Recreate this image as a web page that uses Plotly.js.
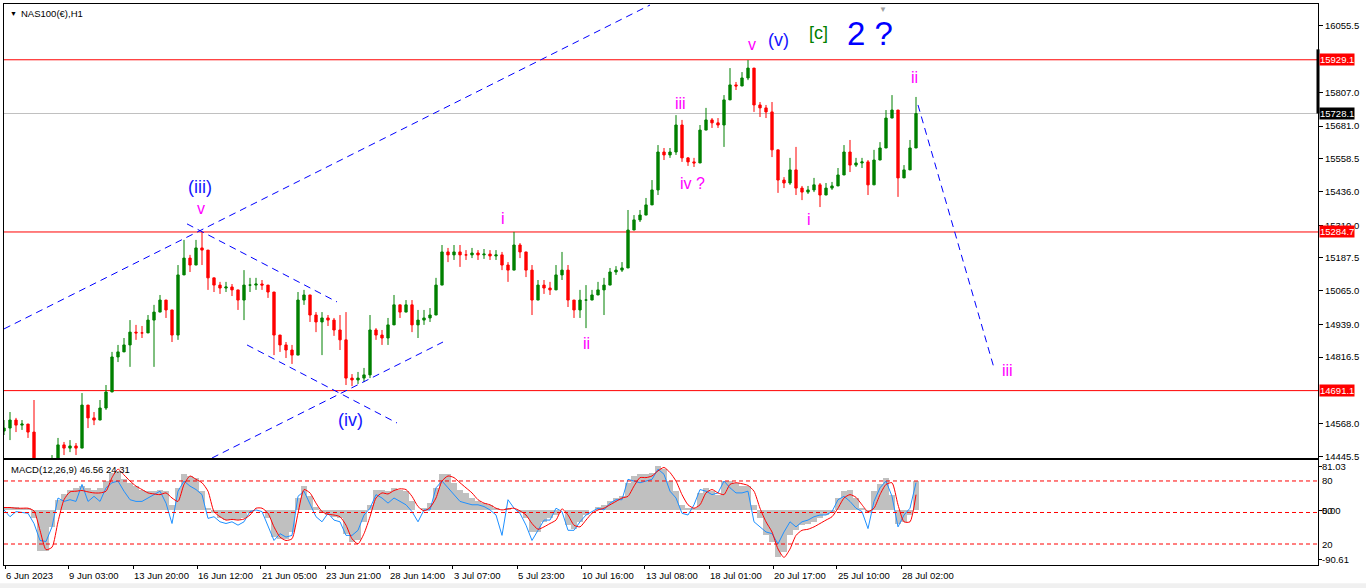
<!DOCTYPE html>
<html><head><meta charset="utf-8">
<script src="https://cdn.plot.ly/plotly-3.0.1.min.js"></script>
<style>html,body{margin:0;padding:0;background:#fff;}#chart{width:1366px;height:588px;}</style>
</head><body><div id="chart"></div>
<script>
// ---------- price data (H1 candles, sampled) ----------
const firstOpen = 14540;
const closes = [14551,14581,14562,14566,14536,14413,14394,14402,14424,14488,
14476,14484,14476,14637,14589,14581,14626,14686,14817,14836,
14862,14910,14907,14907,14955,14985,15030,14993,14899,15124,
15187,15161,15225,15217,15113,15086,15075,15079,15068,15030,
15086,15086,15090,15086,15060,14899,14862,14843,14824,15030,
15049,14974,14948,14963,14955,14918,14881,14738,14731,14738,
14750,14918,14899,14888,14937,15012,14985,15012,14937,14955,
14963,14974,15086,15210,15199,15210,15199,15199,15206,15199,
15202,15195,15199,15161,15142,15236,15210,15142,15030,15086,
15075,15068,15124,15142,15030,14993,15030,15030,15049,15068,
15086,15135,15142,15150,15292,15330,15348,15386,15442,15584,
15573,15584,15685,15562,15547,15543,15666,15704,15693,15685,
15779,15835,15831,15861,15898,15760,15749,15734,15592,15479,
15468,15517,15449,15434,15442,15461,15423,15449,15457,15498,
15584,15535,15543,15547,15461,15554,15599,15711,15741,15487,
15517,15599,15728];
const highs = [14581,14611,14589,14581,14562,14656,14424,14424,14450,14514,
14499,14506,14495,14682,14637,14611,14656,14712,14836,14862,
14888,14955,14937,14933,14974,15012,15049,15030,14974,15161,
15255,15199,15255,15285,15199,15113,15098,15098,15090,15068,
15142,15113,15113,15105,15086,15049,14888,14873,14862,15060,
15068,15012,14985,14985,14974,14963,14974,14985,14753,14761,
14776,14974,14925,14918,14963,15049,15012,15030,15030,14993,
14993,15000,15113,15236,15225,15236,15236,15217,15225,15217,
15221,15217,15217,15210,15172,15285,15243,15172,15161,15105,
15105,15098,15161,15210,15161,15012,15068,15086,15068,15098,
15113,15150,15157,15172,15367,15348,15367,15412,15479,15610,
15599,15599,15722,15704,15565,15562,15685,15749,15711,15711,
15797,15898,15846,15883,15928,15872,15771,15760,15771,15509,
15490,15562,15603,15457,15457,15487,15468,15468,15472,15524,
15610,15629,15562,15562,15554,15592,15621,15741,15797,15734,
15535,15629,15790];
const lows = [14525,14506,14536,14544,14514,14394,14364,14375,14394,14439,
14450,14461,14450,14476,14551,14562,14589,14619,14686,14798,
14836,14780,14881,14888,14918,14780,14993,14963,14873,14881,
15161,15135,15172,15161,15068,15060,15053,15060,15045,14993,
14955,15060,15068,15068,15038,14824,14836,14813,14791,14824,
15012,14948,14910,14824,14933,14896,14843,14712,14708,14716,
14723,14738,14881,14862,14862,14974,14963,14993,14910,14888,
14937,14948,15012,15086,15172,15180,15154,15180,15187,15180,
15184,15180,15180,15142,15098,15187,15187,15116,14974,15060,
15053,15049,15068,15105,15004,14963,14963,14925,15030,15049,
14974,15105,15124,15135,15180,15300,15322,15359,15412,15423,
15554,15562,15573,15547,15532,15528,15554,15674,15674,15674,
15603,15809,15816,15835,15853,15734,15715,15711,15565,15431,
15449,15461,15423,15404,15427,15434,15378,15434,15442,15479,
15498,15509,15528,15524,15423,15461,15573,15629,15711,15416,
15487,15573,15666];

// ---------- MACD panel data ----------
const macdHist = [5.0,5.0,3.9,3.3,3.3,-14.4,-67.2,-67.2,-28.3,16.1,
25.5,32.7,35.5,38.3,35.5,32.7,35.5,46.6,60.5,63.3,
49.4,43.8,38.3,32.7,30.0,30.0,32.7,30.0,7.8,35.5,
57.7,54.9,52.2,30.0,2.2,-6.1,-14.4,-17.2,-17.2,-17.2,
-14.4,-6.1,-0.6,-0.6,-14.4,-45.0,-47.7,-47.7,-36.6,18.9,
38.3,21.6,5.0,-6.1,-8.9,-11.7,-14.4,-39.4,-53.3,-50.5,
-20.0,7.8,32.7,32.7,30.0,35.5,32.7,30.0,13.3,-0.6,
2.2,10.5,35.5,57.7,57.7,43.8,32.7,27.2,18.9,13.3,
10.5,7.8,3.3,-0.6,2.2,-0.6,-6.1,-14.4,-36.6,-36.6,
-20.0,-14.4,-8.9,-0.6,-25.5,-31.1,-20.0,-8.9,-0.6,5.0,
7.8,13.3,18.9,21.6,43.8,54.9,57.7,57.7,60.5,71.6,
66.0,46.6,30.0,7.8,2.2,2.2,27.2,35.5,30.0,24.4,
46.6,46.6,43.8,38.3,38.3,7.8,-14.4,-42.2,-53.3,-78.3,
-69.9,-42.2,-33.9,-25.5,-22.8,-20.0,-14.4,-8.9,-6.1,18.9,
30.0,32.7,18.9,2.2,-6.1,30.0,41.1,52.2,24.4,-22.8,
-20.0,-8.9,46.56];
const macdSignal = [3.3,3.3,2.2,2.2,2.2,-2.2,-33.9,-65.5,-61.6,-20.0,
16.1,28.9,30.0,31.1,28.9,27.2,27.2,30.0,52.2,66.0,
56.6,46.6,38.3,32.7,27.2,25.5,24.4,27.2,18.9,13.3,
41.1,54.9,49.4,43.8,30.0,-3.3,-11.7,-17.2,-16.1,-17.2,
-15.5,-8.9,2.2,2.2,-6.1,-28.3,-45.0,-50.5,-47.7,-6.1,
32.7,27.2,10.5,-3.3,-7.8,-8.9,-11.7,-25.5,-47.7,-56.1,
-39.4,-11.7,18.9,27.2,25.5,31.1,33.9,32.7,21.6,5.0,
-2.2,3.3,18.9,46.6,54.9,52.2,43.8,35.5,27.2,16.1,
10.5,7.8,2.2,-0.6,1.1,2.2,-2.2,-8.9,-22.8,-32.2,
-28.3,-22.8,-17.2,1.1,-8.9,-25.5,-28.3,-17.2,-6.1,-0.6,
2.2,7.8,13.3,18.9,21.6,38.3,52.2,52.2,54.9,63.3,
68.8,60.5,46.6,24.4,7.8,2.2,7.8,27.2,32.7,27.2,
24.4,41.1,43.8,42.2,39.4,30.0,2.2,-20.0,-36.6,-64.4,
-78.3,-64.4,-42.2,-33.9,-32.2,-28.3,-22.8,-17.2,-11.7,2.2,
18.9,24.4,20.0,7.8,-3.3,2.2,24.4,41.1,43.8,7.8,
-20.0,-20.0,24.31];
const macdBlue = [-0.6,-11.7,-3.3,-4.4,-6.1,-22.8,-50.5,-52.2,-28.3,18.9,
13.3,16.1,13.3,41.1,13.3,21.6,13.3,35.5,43.8,46.6,
30.0,16.1,13.3,13.3,18.9,24.4,30.0,10.5,-22.8,30.0,
46.6,38.3,32.7,24.4,-14.4,-11.7,-20.0,-22.8,-20.0,-25.5,
-20.0,-3.3,-0.6,-3.3,-28.3,-50.5,-39.4,-45.0,-42.2,21.6,
30.0,7.8,-11.7,-20.0,-6.1,-17.2,-20.0,-42.2,-42.2,-33.9,
-8.9,2.2,24.4,18.9,10.5,18.9,13.3,7.8,-3.3,-20.0,
-0.6,-0.6,35.5,46.6,35.5,24.4,13.3,10.5,7.8,7.8,
5.0,-0.6,-8.9,-42.2,16.1,2.2,-6.1,-25.5,-50.5,-33.9,
-17.2,-17.2,2.2,-3.3,-33.9,-33.9,-20.0,-8.9,-3.3,2.2,
-0.6,10.5,16.1,16.1,49.4,46.6,43.8,46.6,49.4,66.0,
57.7,30.0,18.9,-6.1,-8.9,7.8,32.7,30.0,24.4,27.2,
46.6,35.5,27.2,27.2,30.0,-20.0,-28.3,-36.6,-39.4,-56.1,
-36.6,-20.0,-28.3,-20.0,-17.2,-11.7,-8.9,-8.9,-3.3,16.1,
21.6,13.3,2.2,-3.3,-31.1,13.3,35.5,46.6,21.6,-28.3,
-8.9,2.2,43.8];
const macdLevels = [80, 50, 20];

// ---------- axes labels ----------
const priceTicks = [16055.5,15807.0,15681.0,15558.5,15436.0,15310.0,15187.5,15065.0,14939.0,14816.5,14568.0,14445.5];
const timeLabels = ["6 Jun 2023","9 Jun 03:00","13 Jun 20:00","16 Jun 12:00","21 Jun 05:00","23 Jun 21:00","28 Jun 14:00","3 Jul 07:00","5 Jul 23:00","10 Jul 16:00","13 Jul 08:00","18 Jul 01:00","20 Jul 17:00","25 Jul 10:00","28 Jul 02:00"];
const timeLabelBars = [0.17,10.67,21.5,32.17,42.83,53.5,64.17,74.83,85.5,96.17,106.83,117.5,128.17,138.83,149.5];

// ---------- horizontal levels ----------
const redLevels = [15929.1, 15284.7, 14691.1];
const currentPrice = 15728.1;

// ---------- analyst drawings (bar index, price) ----------
const trendLines = [
  [0, 14922, 107.67, 16134],
  [34.67, 14439, 73.17, 14873],
  [30.5, 15315, 55.5, 15023],
  [40.5, 14862, 65.5, 14570],
  [152.33, 15760, 165, 14776]
];
const waveText = ["(iii)","v","(iv)","i","ii","iii","iv ?","v","(v)","[c]","2 ?","i","ii","iii"];
const waveBar  = [32.67,32.83,57.67,83.17,97,112.67,114.67,124.67,129,135.83,144.33,134.17,151.83,167.33];
const wavePrice= [15453,15371,14581,15337,14869,15767,15468,15988,16003,16029,16029,15330,15861,14768];
const waveKind = ["blue","mag","blue","mag","mag","mag","mag","mag","blue","green","big","mag","mag","mag"];

// ---------- build ----------
const idx = closes.map((_, i) => i);
const opens = closes.map((c, i) => i === 0 ? firstOpen : closes[i - 1]);
const hi = highs.map((h, i) => Math.max(h, opens[i], closes[i]));
const lo = lows.map((l, i) => Math.min(l, opens[i], closes[i]));

const FONT = 'Arial, "Liberation Sans", sans-serif';
const traces = [
  {type:'candlestick', x:idx, open:opens, high:hi, low:lo, close:closes, xaxis:'x', yaxis:'y',
   increasing:{line:{color:'#008000', width:1}, fillcolor:'#008000'},
   decreasing:{line:{color:'#ff0000', width:1}, fillcolor:'#ff0000'},
   whiskerwidth:0, hoverinfo:'skip', showlegend:false},
  {type:'bar', x:idx, y:macdHist, xaxis:'x2', yaxis:'y2', width:1,
   marker:{color:'#c0c0c0', line:{width:0}}, hoverinfo:'skip'},
  {type:'scatter', mode:'lines', x:idx, y:macdBlue, xaxis:'x2', yaxis:'y2',
   line:{color:'#1e90ff', width:1}, hoverinfo:'skip'},
  {type:'scatter', mode:'lines', x:idx, y:macdSignal, xaxis:'x2', yaxis:'y2',
   line:{color:'#ff0000', width:1, shape:'spline', smoothing:0.6}, hoverinfo:'skip'}
];

const shapes = [];
redLevels.forEach(v => shapes.push({type:'line', xref:'paper', yref:'y', x0:0, x1:1, y0:v, y1:v, line:{color:'#ff0000', width:1}, layer:'below'}));
shapes.push({type:'line', xref:'paper', yref:'y', x0:0, x1:1, y0:currentPrice, y1:currentPrice, line:{color:'#c0c0c0', width:1}, layer:'below'});
trendLines.forEach(t => shapes.push({type:'line', xref:'x', yref:'y', x0:t[0], y0:t[1], x1:t[2], y1:t[3], line:{color:'#0000ff', width:1, dash:'7px,5px'}}));
macdLevels.forEach(v => shapes.push({type:'line', xref:'paper', yref:'y3', x0:0, x1:1, y0:v, y1:v, line:{color:'#ff0000', width:1, dash:'4px,3px'}}));
// thick marker on price scale
shapes.push({type:'line', xref:'paper', yref:'y', x0:1, x1:1, y0:currentPrice, y1:15968, line:{color:'#000', width:3}});
// bottom grey strip of the window
shapes.push({type:'rect', xref:'paper', yref:'paper', x0:-0.01, x1:1.05, y0:-0.0325, y1:-0.06, fillcolor:'#f0f0f0', line:{width:0}});

const ann = [];
ann.push({xref:'paper', yref:'paper', x:0, y:1, xanchor:'left', yanchor:'top', xshift:4, yshift:-4, text:'▼', showarrow:false, font:{family:FONT, size:7, color:'#000'}});
ann.push({xref:'paper', yref:'paper', x:0, y:1, xanchor:'left', yanchor:'top', xshift:15, yshift:-2, text:'NAS100(€),H1', showarrow:false, font:{family:FONT, size:9.5, color:'#000'}});
ann.push({xref:'x', yref:'paper', x:146.5, y:1, xanchor:'center', yanchor:'top', yshift:1, text:'▼', showarrow:false, font:{family:FONT, size:8, color:'#a0a0a0'}});
const boxes = [[15929.1,'#ff0000'],[15284.7,'#ff0000'],[14691.1,'#ff0000'],[currentPrice,'#000000']];
boxes.forEach(b => ann.push({xref:'paper', yref:'y', x:1, y:b[0], xanchor:'left', yanchor:'middle', xshift:1, text:b[0].toFixed(1), showarrow:false, bgcolor:b[1], borderpad:0, font:{family:FONT, size:9.5, color:'#fff'}}));
// MACD panel labels
ann.push({xref:'paper', yref:'paper', x:0, y:0.1872, xanchor:'left', yanchor:'top', xshift:5, yshift:-2, text:'MACD(12,26,9) 46.56 24.31', showarrow:false, font:{family:FONT, size:9.5, color:'#000'}});
[[70.6,'81.03'],[-1.7,'0.00'],[-81.7,'-90.61']].forEach(a => ann.push({xref:'paper', yref:'y2', x:1, y:a[0], xanchor:'left', yanchor:'middle', xshift:2, text:a[1], showarrow:false, font:{family:FONT, size:9.5, color:'#000'}}));
[[80,'80'],[52,'50'],[20,'20']].forEach(a => ann.push({xref:'paper', yref:'y3', x:1, y:a[0], xanchor:'left', yanchor:'middle', xshift:2, text:a[1], showarrow:false, font:{family:FONT, size:9.5, color:'#000'}}));
// time labels
timeLabels.forEach((t, i) => ann.push({xref:'x2', yref:'paper', x:timeLabelBars[i], y:0, xanchor:'left', yanchor:'top', xshift:-1, yshift:-3, text:t, showarrow:false, font:{family:FONT, size:9.5, color:'#000'}}));
// wave labels
const kindStyle = {
  blue:{color:'#1414ff', size:18},
  mag:{color:'#ff00ff', size:16},
  green:{color:'#008000', size:18},
  big:{color:'#0000ff', size:33}
};
waveText.forEach((t, i) => {
  const s = kindStyle[waveKind[i]];
  ann.push({xref:'x', yref:'y', x:waveBar[i], y:wavePrice[i], xanchor:'center', yanchor:'middle', text:t, showarrow:false, font:{family:FONT, size:s.size, color:s.color}});
});

const axLine = {showline:true, mirror:true, linecolor:'#000', linewidth:1, showgrid:false, zeroline:false, fixedrange:true};
const layout = {
  width:1366, height:588, margin:{l:4, r:48, t:4, b:23},
  paper_bgcolor:'#ffffff', plot_bgcolor:'#ffffff', showlegend:false,
  font:{family:FONT, size:9.5, color:'#000'},
  boxgap:0.45, bargap:0,
  xaxis:Object.assign({}, axLine, {domain:[0,1], anchor:'y', range:[0,219], showticklabels:false, ticks:'', rangeslider:{visible:false}}),
  yaxis:Object.assign({}, axLine, {domain:[0.1907,1], anchor:'x', range:[14438.9,16137.8], side:'right',
     tickvals:priceTicks, ticktext:priceTicks.map(v => v.toFixed(1)), ticks:'outside', ticklen:4, tickcolor:'#000', tickfont:{family:FONT, size:9.5, color:'#000'}}),
  xaxis2:Object.assign({}, axLine, {domain:[0,1], anchor:'y2', matches:'x', range:[0,219], tickvals:timeLabelBars, ticktext:timeLabelBars.map(() => ''), ticks:'outside', ticklen:3, tickcolor:'#000'}),
  yaxis2:Object.assign({}, axLine, {domain:[0,0.1872], anchor:'x2', range:[-90.61,81.03], side:'right', showticklabels:false,
     tickvals:[70.6,-1.7,-81.7], ticks:'outside', ticklen:3, tickcolor:'#000'}),
  yaxis3:{overlaying:'y2', range:[0,100], visible:false, fixedrange:true},
  shapes:shapes, annotations:ann
};
Plotly.newPlot('chart', traces, layout, {staticPlot:true, displayModeBar:false});
</script></body></html>
